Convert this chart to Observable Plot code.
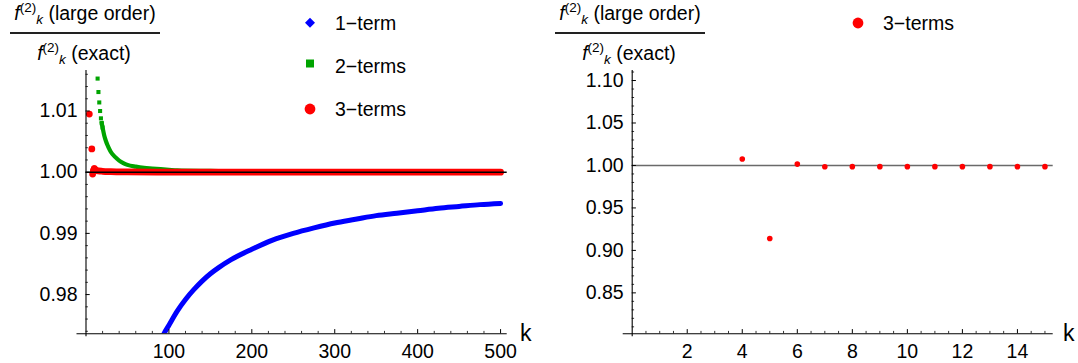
<!DOCTYPE html>
<html><head><meta charset="utf-8">
<script src="https://cdn.jsdelivr.net/npm/d3@7"></script>
<script src="https://cdn.jsdelivr.net/npm/@observablehq/plot@0.6"></script>
<style>
body{margin:0;background:#fff;font-family:"Liberation Sans",Arial,sans-serif;}
#wrap{position:relative;width:1078px;height:363px;overflow:hidden;background:#fff;}
.panel{position:absolute;top:0;}
.title{position:absolute;top:0;width:150px;height:66px;font-size:19.5px;color:#000;}
.title .ln{position:absolute;left:0;width:100%;text-align:center;line-height:19px;white-space:nowrap;}
.title .bar{position:absolute;left:0;width:100%;top:32px;height:1.7px;background:#222;}
.sup{font-size:13.5px;position:relative;top:-8px;}
.sub{font-size:13.5px;position:relative;top:4px;font-style:italic;}
#legend{position:absolute;left:0;top:0;width:1078px;height:363px;pointer-events:none;}
</style></head><body><div id="wrap"></div>
<script>
// ---------- data ----------
// Left panel: ratio f_k(large order)/f_k(exact) versus k
const oneTermK = [88, 94, 100, 110, 120, 130, 140, 150, 160, 175, 200, 225, 250, 275, 300, 325, 350, 375, 400, 425, 450, 475, 500];
const oneTermV = [0.9715, 0.9736, 0.9750, 0.9773, 0.9792, 0.9808, 0.9822, 0.9834, 0.9844, 0.9857, 0.9874, 0.9889, 0.9900, 0.9909, 0.9917, 0.9923, 0.9929, 0.9933, 0.9937, 0.9941, 0.9944, 0.9947, 0.9949];

const twoTermsK = [14, 15, 16, 17, 18, 19, 20, 22, 24, 26, 28, 30, 35, 40, 45, 50, 60, 70, 80, 90, 100, 110, 150, 200, 300, 400, 500];
const twoTermsV = [1.0153, 1.0131, 1.0114, 1.0100, 1.0088, 1.0080, 1.0073, 1.0060, 1.0051, 1.0044, 1.0038, 1.0033, 1.0025, 1.0019, 1.0015, 1.0012, 1.0009, 1.0007, 1.0006, 1.0005, 1.0004, 1.0003, 1.0002, 1.0001, 1.0001, 1.0000, 1.0000];

const threeTermsK = [4, 7, 8, 9, 10, 12, 15, 20, 30, 50, 100, 200, 300, 400, 500];
const threeTermsV = [1.0095, 1.0038, 0.9997, 1.0002, 1.0006, 1.0003, 1.0002, 1.00015, 1.0001, 1.00005, 1.0000, 1.0000, 1.0000, 1.0000, 1.0000];

// Right panel: 3-terms ratio for small k
const smallK = [4, 5, 6, 7, 8, 9, 10, 11, 12, 13, 14, 15];
const smallV = [1.0076, 0.914, 1.0016, 0.9985, 0.9986, 0.9986, 0.9986, 0.9986, 0.9986, 0.9986, 0.9986, 0.9986];

// tick labels
const leftXTicks = [100, 200, 300, 400, 500];
const leftYTicks = [0.98, 0.99, 1.00, 1.01];
const rightXTicks = [2, 4, 6, 8, 10, 12, 14];
const rightYTicks = [0.85, 0.90, 0.95, 1.00, 1.05, 1.10];

const seriesNames = ["1\u2212term", "2\u2212terms", "3\u2212terms"];
const colors = {one: "#0000ff", two: "#00a400", three: "#ff0000"};

// ---------- build ----------
const zip = (K, V) => K.map((k, i) => ({k, v: V[i]}));
const oneTerm = zip(oneTermK, oneTermV);
const twoTerms = zip(twoTermsK, twoTermsV);
const threeTerms = zip(threeTermsK, threeTermsV);
const small = zip(smallK, smallV);

const FONT = "Liberation Sans, Arial, sans-serif";
const wrap = document.getElementById("wrap");

function panel({width, marginLeft, marginRight, xDomain, yDomain, xTicks, yTicks, xMinor, yMinor, kdx, marks, xFormat}) {
  const marginTop = 70, marginBottom = 29.7, height = 363;
  const fw = width - marginLeft - marginRight, fh = height - marginTop - marginBottom;
  return Plot.plot({
    width, height, marginLeft, marginRight, marginTop, marginBottom,
    style: {fontFamily: FONT, fontSize: "19px", color: "#000", background: "transparent", overflow: "visible"},
    x: {domain: xDomain},
    y: {domain: yDomain},
    marks: [
      ...marks,
      // axis lines
      Plot.ruleX([xDomain[0]], {stroke: "#000", strokeWidth: 1.1, insetBottom: -3}),
      Plot.ruleY([yDomain[0]], {stroke: "#000", strokeWidth: 1.1, insetLeft: -9}),
      // inward ticks
      Plot.tickX(xTicks, {x: d => d, insetTop: fh - 4.2, stroke: "#000", strokeWidth: 1}),
      Plot.tickX(xMinor, {x: d => d, insetTop: fh - 2.4, stroke: "#000", strokeWidth: 0.8}),
      Plot.tickY(yTicks, {y: d => d, insetRight: fw - 4.2, stroke: "#000", strokeWidth: 1}),
      Plot.tickY(yMinor, {y: d => d, insetRight: fw - 2.4, stroke: "#000", strokeWidth: 0.8}),
      // labels
      Plot.axisX(xTicks, {tickSize: 0, tickPadding: 10, fontSize: 19.5, label: null, tickFormat: xFormat}),
      Plot.axisY(yTicks, {tickSize: 0, tickPadding: 8.5, fontSize: 19.5, label: null, tickFormat: d3.format(".2f")}),
      Plot.text(["k"], {text: d => d, frameAnchor: "bottom-right", dx: kdx, dy: 0, fontSize: 23, textAnchor: "middle", lineAnchor: "middle"})
    ]
  });
}

const left = panel({
  width: 540, marginLeft: 85.5, marginRight: 33.3,
  xDomain: [0, 508], yDomain: [0.97359, 1.01662],
  xTicks: leftXTicks, yTicks: leftYTicks,
  xMinor: d3.range(20, 508, 20).filter(d => d % 100 !== 0),
  yMinor: d3.range(0.974, 1.0166, 0.002).filter(d => Math.abs(d * 100 - Math.round(d * 100)) > 1e-6),
  kdx: 18.5, xFormat: d => String(d),
  marks: [
    Plot.line(oneTerm, {x: "k", y: "v", stroke: colors.one, strokeWidth: 5, curve: "monotone-x", clip: true}),
    Plot.line(twoTerms.filter(d => d.k >= 19), {x: "k", y: "v", stroke: colors.two, strokeWidth: 4.2, curve: "monotone-x", strokeLinecap: "square"}),
    Plot.dot(twoTerms.filter(d => d.k <= 20), {x: "k", y: "v", symbol: "square", r: 2.3, fill: colors.two}),
    Plot.line(threeTerms.filter(d => d.k >= 9), {x: "k", y: "v", stroke: colors.three, strokeWidth: 6.8, curve: "monotone-x", strokeLinecap: "round"}),
    Plot.dot(threeTerms.filter(d => d.k <= 12), {x: "k", y: "v", r: 3.4, fill: colors.three}),
    Plot.ruleY([1], {stroke: "#000", strokeWidth: 1.5})
  ]
});
left.classList.add("panel");
left.style.left = "0px";
wrap.appendChild(left);

const right = panel({
  width: 538, marginLeft: 91.7, marginRight: 25.3,
  xDomain: [0, 15.3], yDomain: [0.8018, 1.1118],
  xTicks: rightXTicks, yTicks: rightYTicks,
  xMinor: d3.range(0.5, 15.3, 0.5).filter(d => d % 2 !== 0),
  yMinor: d3.range(0.81, 1.111, 0.01).filter(d => Math.abs(d * 20 - Math.round(d * 20)) > 1e-6),
  kdx: 15.5, xFormat: d => String(d),
  marks: [
    Plot.ruleY([1], {stroke: "#6a6a6a", strokeWidth: 1.6}),
    Plot.dot(small, {x: "k", y: "v", r: 2.8, fill: colors.three})
  ]
});
right.classList.add("panel");
right.style.left = "540px";
wrap.appendChild(right);

// ---------- fraction titles ----------
function title(x) {
  const d = document.createElement("div");
  d.className = "title";
  d.style.left = x + "px";
  d.innerHTML =
    `<div class="ln" style="top:4px"><i>f</i><span class="sup">(2)</span><span class="sub">k</span> (large order)</div>` +
    `<div class="bar"></div>` +
    `<div class="ln" style="top:44px;left:-1px"><i>f</i><span class="sup">(2)</span><span class="sub">k</span> (exact)</div>`;
  wrap.appendChild(d);
}
title(10);
title(555);

// ---------- legends ----------
const svg = d3.select(wrap).append("svg").attr("id", "legend").attr("width", 1078).attr("height", 363);
const lg = svg.append("g").attr("font-family", FONT).attr("font-size", 19.5).attr("fill", "#000");
function legendItem(cx, cy, ty, name, shape, color) {
  if (shape === "diamond") lg.append("path").attr("d", `M${cx},${cy-5}L${cx+5},${cy}L${cx},${cy+5}L${cx-5},${cy}Z`).attr("fill", color);
  else if (shape === "square") lg.append("rect").attr("x", cx - 4).attr("y", cy - 4).attr("width", 8).attr("height", 8).attr("fill", color);
  else lg.append("circle").attr("cx", cx).attr("cy", cy).attr("r", 5.4).attr("fill", color);
  lg.append("text").attr("x", cx + 25).attr("y", ty).attr("dy", "0.35em").text(name);
}
legendItem(310, 22.7, 23.3, seriesNames[0], "diamond", colors.one);
legendItem(310, 63.5, 66.3, seriesNames[1], "square", colors.two);
legendItem(310, 109, 109.3, seriesNames[2], "circle", colors.three);
legendItem(858, 23, 23.3, seriesNames[2], "circle", colors.three);
</script>
</body></html>
